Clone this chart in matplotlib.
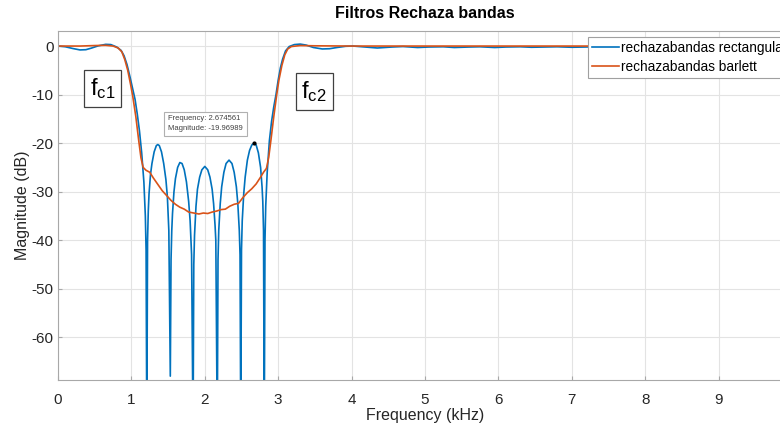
import matplotlib
matplotlib.use('Agg')
import matplotlib.pyplot as plt

plt.rcParams['font.family'] = ['Liberation Sans', 'DejaVu Sans']
plt.rcParams['axes.unicode_minus'] = False
plt.rcParams['mathtext.default'] = 'regular'

# Respuesta del filtro con ventana rectangular
f_rect = [0.00, 0.10, 0.20, 0.30, 0.38, 0.45, 0.55, 0.65, 0.72, 0.80, 0.86, 0.90,
          0.94, 0.98, 1.02, 1.05, 1.08, 1.11, 1.14, 1.17, 1.19, 1.20, 1.21,
          1.22, 1.23, 1.24, 1.26, 1.28, 1.31, 1.34, 1.36, 1.38, 1.41, 1.44, 1.47, 1.49, 1.51, 1.53,
          1.54, 1.55, 1.56, 1.58, 1.60, 1.63, 1.66, 1.69, 1.72, 1.75, 1.78, 1.80, 1.82, 1.84,
          1.85, 1.86, 1.88, 1.90, 1.93, 1.96, 2.00, 2.04, 2.07, 2.10, 2.12, 2.14, 2.15, 2.17,
          2.18, 2.19, 2.21, 2.23, 2.26, 2.29, 2.33, 2.37, 2.40, 2.43, 2.45, 2.47, 2.48, 2.49,
          2.50, 2.51, 2.53, 2.55, 2.58, 2.61, 2.64, 2.675, 2.70, 2.73, 2.76, 2.78, 2.79, 2.80, 2.81,
          2.82, 2.83, 2.85, 2.88, 2.91, 2.94, 2.97, 3.00, 3.03,
          3.06, 3.10, 3.15, 3.22, 3.30, 3.38, 3.48, 3.60, 3.70, 3.80, 3.92, 4.02,
          4.15, 4.35, 4.55, 4.70, 4.90, 5.05, 5.25, 5.40, 5.60, 5.75, 5.95, 6.10,
          6.30, 6.45, 6.65, 6.80, 7.00, 7.15, 7.35, 7.50, 7.70, 7.85, 8.05, 8.20,
          8.40, 8.55, 8.75, 8.90, 9.10, 9.25, 9.45, 9.60, 9.80, 10.0]
db_rect = [0.0, -0.15, -0.5, -0.8, -0.75, -0.45, 0.05, 0.35, 0.3, -0.2, -0.9, -2.0,
           -3.8, -6.3, -9.0, -11.0, -14.0, -17.5, -22.0, -28.0, -35.0, -42.0, -80.0,
           -40.0, -34.0, -30.5, -26.5, -24.2, -21.8, -20.5, -20.3, -20.5, -21.8, -24.2, -27.5, -31.0, -38.0, -68.0,
           -44.0, -38.0, -34.5, -30.0, -27.3, -25.0, -24.0, -24.2, -25.5, -28.0, -32.0, -36.0, -43.0, -80.0,
           -45.0, -39.0, -33.0, -29.5, -27.0, -25.5, -24.8, -25.5, -27.0, -29.5, -32.5, -37.0, -40.0, -80.0,
           -44.0, -38.0, -32.5, -29.0, -26.0, -24.2, -23.5, -24.2, -26.0, -29.0, -32.5, -38.0, -43.0, -80.0,
           -42.0, -36.0, -30.5, -27.0, -23.5, -21.5, -20.4, -19.97, -20.4, -22.0, -25.0, -29.0, -32.0, -38.0, -80.0,
           -40.0, -33.0, -26.0, -19.5, -15.5, -12.5, -10.0, -7.0, -4.5,
           -2.7, -1.0, -0.1, 0.3, 0.4, 0.2, -0.3, -0.6, -0.55, -0.3, -0.05, 0.0,
           -0.15, -0.4, -0.2, -0.1, -0.3, -0.2, -0.15, -0.3, -0.2, -0.15, -0.3, -0.2,
           -0.15, -0.25, -0.2, -0.15, -0.25, -0.2, -0.15, -0.25, -0.2, -0.15, -0.25, -0.2,
           -0.15, -0.25, -0.2, -0.15, -0.25, -0.2, -0.15, -0.25, -0.2, -0.2]

# Respuesta del filtro con ventana Bartlett
f_bart = [0.00, 0.30, 0.50, 0.65, 0.75, 0.82, 0.87, 0.91, 0.95, 0.99, 1.02, 1.06,
          1.10, 1.13, 1.16, 1.20, 1.25, 1.30, 1.36, 1.42, 1.48, 1.54, 1.60, 1.66,
          1.72, 1.78, 1.85, 1.92, 1.98, 2.04, 2.10, 2.16, 2.22, 2.28, 2.34, 2.40,
          2.46, 2.52, 2.58, 2.64, 2.70, 2.76, 2.80, 2.84, 2.87, 2.90, 2.94, 2.98,
          3.01, 3.05, 3.09, 3.13, 3.18, 3.30, 3.50, 4.00, 10.0]
db_bart = [0.0, 0.0, 0.1, 0.15, 0.0, -0.4, -1.2, -2.8, -5.0, -8.0, -10.5, -14.5,
           -19.5, -23.0, -25.0, -25.6, -26.0, -27.2, -28.5, -29.8, -30.8, -31.8, -32.6, -33.2,
           -33.6, -34.2, -34.4, -34.6, -34.4, -34.5, -34.2, -34.0, -33.7, -33.6, -33.0, -32.6,
           -32.4, -31.2, -30.2, -29.4, -28.4, -27.0, -26.0, -25.2, -23.0, -19.5, -14.5, -10.0,
           -7.0, -4.0, -1.8, -0.6, -0.1, 0.1, 0.05, 0.0, 0.0]

x_ticks = [0, 1, 2, 3, 4, 5, 6, 7, 8, 9]
y_ticks = [-60, -50, -40, -30, -20, -10, 0]

fig = plt.figure(figsize=(7.8, 4.26), dpi=100)
ax = fig.add_axes([58 / 780, 46 / 426, 734 / 780, 349 / 426])

azul = '#0072BD'
naranja = '#D95319'
ax.plot(f_rect, db_rect, color=azul, lw=1.2, label='rechazabandas rectangular')
ax.plot(f_bart, db_bart, color=naranja, lw=1.2, label='rechazabandas barlett')

ax.set_xlim(0, 10)
ax.set_ylim(-68.8, 3.1)
ax.set_xticks(x_ticks)
ax.set_yticks(y_ticks)
ax.grid(True, color='#e3e3e3', lw=0.8)
ax.set_axisbelow(True)
for lado in ax.spines.values():
    lado.set_color('#a8a8a8')
    lado.set_linewidth(0.8)
ax.tick_params(direction='in', length=3, color='#a8a8a8', labelsize=11,
               labelcolor='#262626')
ax.tick_params(axis='x', pad=9)
ax.tick_params(axis='y', pad=3)

ax.set_title('Filtros Rechaza bandas', fontsize=11.5, fontweight='bold', pad=9)
ax.set_xlabel('Frequency (kHz)', fontsize=11.5, color='#262626', labelpad=1)
ax.set_ylabel('Magnitude (dB)', fontsize=11.5, color='#262626', labelpad=1)

# Etiquetas de frecuencias de corte
caja = dict(boxstyle='square,pad=0.25', fc='white', ec='#404040', lw=0.9)
ax.text(0.61, -8.8, '$f_{c1}$', fontsize=17, ha='center', va='center', bbox=caja)
ax.text(3.49, -9.4, '$f_{c2}$', fontsize=17, ha='center', va='center', bbox=caja)

# Datatip
ax.plot([2.674561], [-19.96989], 'o', color='black', ms=2)
ax.text(1.50, -16.0, 'Frequency: 2.674561\nMagnitude: -19.96989', fontsize=5.5,
        color='#404040', ha='left', va='center', linespacing=1.5,
        bbox=dict(boxstyle='square,pad=0.5', fc='white', ec='#b0b0b0', lw=0.8))

ley = ax.legend(loc='upper left', bbox_to_anchor=(0.722, 0.983), fontsize=9.8,
                frameon=True, fancybox=False, edgecolor='#a0a0a0', framealpha=1,
                handlelength=2.0, handletextpad=0.15, borderpad=0.3, labelspacing=0.35,
                borderaxespad=0)
ley.get_frame().set_linewidth(0.8)

fig.savefig('out.png', dpi=100)
